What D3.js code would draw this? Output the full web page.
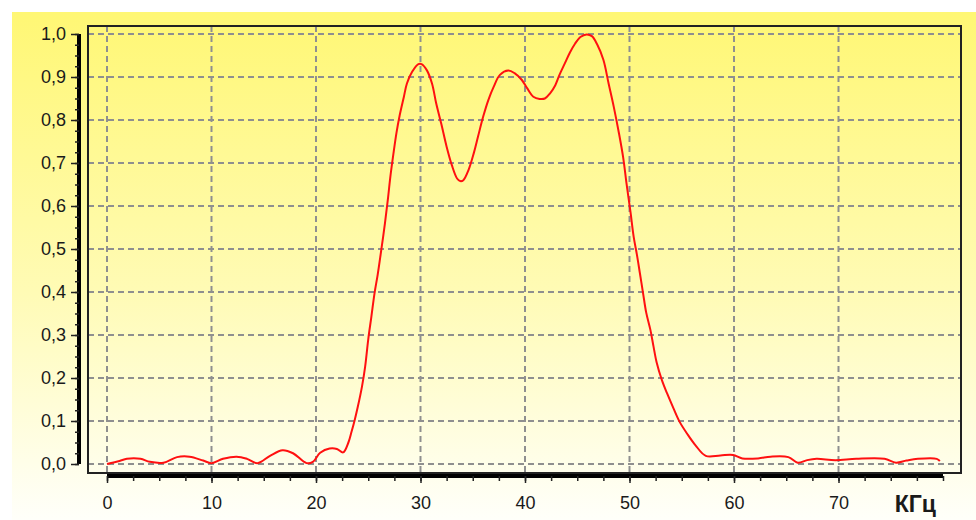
<!DOCTYPE html>
<html>
<head>
<meta charset="utf-8">
<script src="https://cdn.jsdelivr.net/npm/d3@7/dist/d3.min.js"></script>
<style>
  html, body { margin: 0; padding: 0; background: #ffffff; }
  svg { display: block; }
</style>
</head>
<body>
<svg id="chart" width="976" height="520"></svg>
<script>
// ---- data ----
const freq = [0, 1.2, 1.9, 3.2, 4.1, 5.4, 6.7, 7.9, 9.2, 10.0, 11.1, 12.4, 13.4, 14.4, 15.6, 16.8, 17.8, 19.1, 19.7, 20.4, 21.3, 22.0, 22.6, 23.1, 23.4, 23.7, 24.0, 24.4, 24.7, 25.0, 25.3, 25.6, 25.9, 26.2, 26.6, 26.9, 27.1, 27.4, 27.7, 28.0, 28.4, 28.7, 29.2, 29.8, 30.1, 30.6, 31.1, 31.5, 32.0, 32.5, 33.0, 33.5, 33.8, 34.1, 34.6, 35.1, 35.5, 36.0, 36.5, 37.0, 37.6, 38.4, 39.0, 39.7, 40.2, 40.8, 41.4, 41.9, 42.4, 42.9, 43.3, 43.8, 44.3, 44.8, 45.3, 45.9, 46.4, 46.9, 47.5, 48.0, 48.5, 49.0, 49.4, 49.7, 50.1, 50.4, 50.7, 51.0, 51.3, 51.6, 52.0, 52.3, 52.6, 53.1, 53.6, 54.2, 54.8, 55.5, 56.3, 57.3, 58.7, 59.9, 60.8, 62.3, 63.5, 65.2, 66.1, 67.0, 67.9, 69.7, 71.7, 74.4, 75.5, 76.5, 77.6, 79.4, 79.7];
const amp = [0.000, 0.007, 0.012, 0.012, 0.005, 0.003, 0.016, 0.017, 0.008, 0.002, 0.012, 0.017, 0.012, 0.002, 0.019, 0.032, 0.025, 0.002, 0.005, 0.026, 0.036, 0.035, 0.027, 0.050, 0.075, 0.102, 0.133, 0.180, 0.226, 0.290, 0.343, 0.397, 0.440, 0.490, 0.560, 0.620, 0.665, 0.720, 0.770, 0.810, 0.853, 0.885, 0.912, 0.930, 0.930, 0.916, 0.885, 0.839, 0.790, 0.738, 0.695, 0.664, 0.658, 0.660, 0.684, 0.723, 0.761, 0.808, 0.847, 0.877, 0.905, 0.915, 0.909, 0.893, 0.874, 0.854, 0.849, 0.850, 0.862, 0.881, 0.905, 0.931, 0.957, 0.978, 0.993, 0.999, 0.995, 0.976, 0.940, 0.885, 0.830, 0.768, 0.712, 0.655, 0.585, 0.528, 0.488, 0.443, 0.397, 0.352, 0.312, 0.273, 0.236, 0.195, 0.164, 0.130, 0.098, 0.071, 0.044, 0.019, 0.020, 0.021, 0.013, 0.013, 0.017, 0.016, 0.003, 0.009, 0.012, 0.009, 0.012, 0.012, 0.003, 0.008, 0.012, 0.012, 0.007];
const xTicks = [0, 10, 20, 30, 40, 50, 60, 70];
const yTicks = [0, 0.1, 0.2, 0.3, 0.4, 0.5, 0.6, 0.7, 0.8, 0.9, 1.0];
const xUnit = "КГц";

// ---- layout ----
const svg = d3.select("#chart");
const frame = { left: 88, top: 26, right: 961, bottom: 473 };
const x = d3.scaleLinear().domain([0, 70]).range([107, 838.5]);
const y = d3.scaleLinear().domain([0, 1]).range([464, 34]);
const FONT = "'Liberation Sans', Arial, sans-serif";

// background gradient
const defs = svg.append("defs");
const grad = defs.append("linearGradient").attr("id", "bg")
  .attr("x1", 0).attr("y1", 0).attr("x2", 0).attr("y2", 1);
grad.append("stop").attr("offset", "0%").attr("stop-color", "#fff774");
grad.append("stop").attr("offset", "55%").attr("stop-color", "#fffbb5");
grad.append("stop").attr("offset", "100%").attr("stop-color", "#fffffa");

svg.append("rect").attr("x", 12).attr("y", 12).attr("width", 976 - 12).attr("height", 520 - 12)
  .attr("fill", "url(#bg)");

// grid
const grid = svg.append("g").attr("stroke", "#8f8f8f").attr("stroke-width", 2)
  .attr("stroke-dasharray", "6,4").attr("fill", "none");
grid.selectAll("line.h").data(yTicks).join("line").attr("class", "h")
  .attr("x1", frame.left).attr("x2", frame.right)
  .attr("y1", d => y(d)).attr("y2", d => y(d));
grid.selectAll("line.v").data(xTicks).join("line").attr("class", "v")
  .attr("x1", d => x(d)).attr("x2", d => x(d))
  .attr("y1", frame.top).attr("y2", frame.bottom);

// frame
svg.append("rect").attr("x", frame.left).attr("y", frame.top)
  .attr("width", frame.right - frame.left).attr("height", frame.bottom - frame.top)
  .attr("fill", "none").attr("stroke", "#222").attr("stroke-width", 2);

// curve
const line = d3.line().x((d, i) => x(freq[i])).y(d => y(d)).curve(d3.curveCatmullRom.alpha(0.5));
svg.append("path").datum(amp).attr("d", line)
  .attr("fill", "none").attr("stroke", "#ff1010").attr("stroke-width", 2);

// x axis bar + ticks
const xAxisY = 476;
svg.append("rect").attr("x", x(0)).attr("y", xAxisY - 2)
  .attr("width", x(80) - x(0)).attr("height", 4).attr("fill", "#000");
const xMinor = d3.range(0, 80.01, 2.5);
const gxMinor = svg.append("g").attr("transform", `translate(0,${xAxisY})`)
  .call(d3.axisBottom(x).tickValues(xMinor).tickSize(5).tickFormat(""));
gxMinor.select(".domain").remove();
gxMinor.selectAll("line").attr("stroke", "#222").attr("stroke-width", 1.5);
const gx = svg.append("g").attr("transform", `translate(0,${xAxisY})`)
  .call(d3.axisBottom(x).tickValues(xTicks).tickSize(7).tickPadding(0).tickFormat(d3.format("d")));
gx.select(".domain").remove();
gx.selectAll("line").attr("stroke", "#222").attr("stroke-width", 1.5);
gx.selectAll("text").attr("y", 33).attr("dy", 0)
  .attr("font-family", FONT).attr("font-size", 18).attr("fill", "#1a1a1a");

svg.append("text").attr("x", 936).attr("y", 512).attr("text-anchor", "end")
  .attr("font-family", FONT).attr("font-size", 23).attr("font-weight", "bold")
  .attr("fill", "#1a1a1a").text(xUnit);

// y axis bar + ticks
const yAxisX = 79;
svg.append("rect").attr("x", yAxisX - 2).attr("y", y(1))
  .attr("width", 4).attr("height", y(0) - y(1)).attr("fill", "#000");
const yMinor = d3.range(0, 1.0001, 0.025);
const gyMinor = svg.append("g").attr("transform", `translate(${yAxisX},0)`)
  .call(d3.axisLeft(y).tickValues(yMinor).tickSize(4).tickFormat(""));
gyMinor.select(".domain").remove();
gyMinor.selectAll("line").attr("stroke", "#222").attr("stroke-width", 1.5);
const gy = svg.append("g").attr("transform", `translate(${yAxisX},0)`)
  .call(d3.axisLeft(y).tickValues(yTicks).tickSize(8).tickPadding(5)
    .tickFormat(d => d3.format(".1f")(d).replace(".", ",")));
gy.select(".domain").remove();
gy.selectAll("line").attr("stroke", "#222").attr("stroke-width", 1.5);
gy.selectAll("text").attr("font-family", FONT).attr("font-size", 18).attr("fill", "#1a1a1a");
</script>
</body>
</html>
